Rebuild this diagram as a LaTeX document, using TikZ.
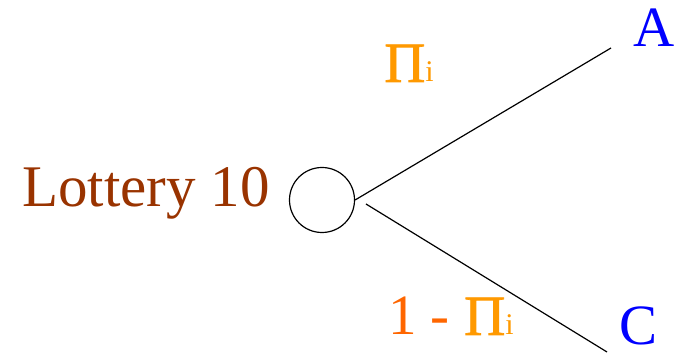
\documentclass[tikz,border=0pt]{standalone}
\usepackage{fontspec}
\setmainfont{Liberation Serif}
\newfontfamily\pifont[FakeBold=1.2]{Liberation Serif}
\definecolor{lotbrown}{HTML}{993300}
\definecolor{pblue}{HTML}{0000FF}
\definecolor{porange}{HTML}{FF9900}
\definecolor{pred}{HTML}{FF6600}
\newcommand{\bigpi}{{\pifont Π}{\fontsize{30}{30}\selectfont i}}
\begin{document}
\begin{tikzpicture}[x=1pt,y=1pt,
  lbl/.style={inner sep=0pt,anchor=base west,font=\fontsize{57}{60}\selectfont},
  edge/.style={draw=black,line width=1.2pt}]
\useasboundingbox (0,0) rectangle (678,355);
\node[lbl,text=lotbrown,font=\fontsize{59}{60}\selectfont] (lot) at (22,148) {Lottery 10};
\node[draw,circle,line width=1.2pt,minimum size=65pt,inner sep=0pt] (c) at (322,155) {};
\node[lbl,text=pblue] (a) at (633,308) {A};
\node[lbl,text=pblue] (cc) at (619,10) {C};
\node[lbl,text=porange] (pu) at (384,273) {\bigpi};
\node[lbl] (pl) at (388,20) {\textcolor{pred}{1 -} \textcolor{porange}{\bigpi}};
\coordinate (ue) at (611,307);
\coordinate (ls) at (366,151);
\coordinate (le) at (607,3);
\draw[edge] (c.east) -- (ue);
\draw[edge] (ls) -- (le);
\end{tikzpicture}
\end{document}
